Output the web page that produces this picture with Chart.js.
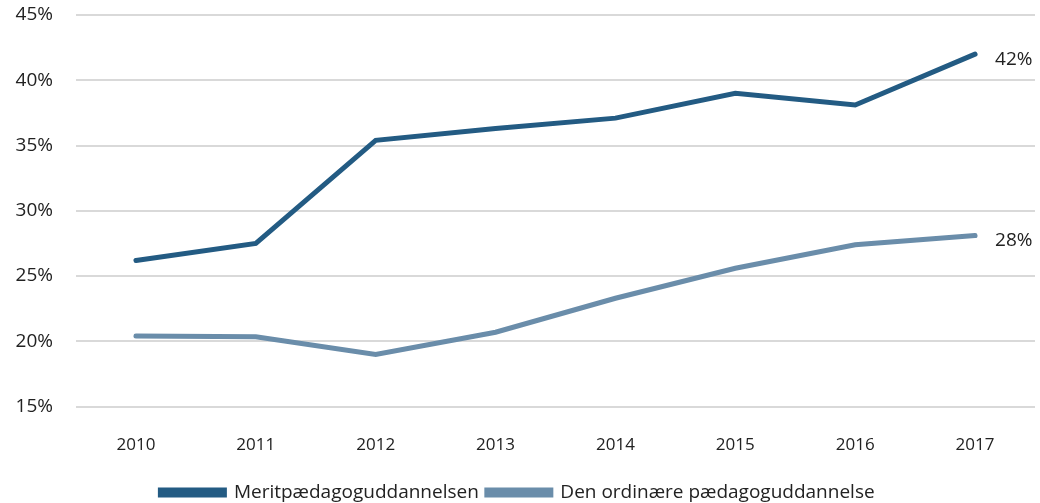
<!DOCTYPE html>
<html>
<head>
<meta charset="utf-8">
<script src="https://cdn.jsdelivr.net/npm/chart.js@4"></script>
<style>
  html, body { margin: 0; padding: 0; background: #fff; }
  #wrap { width: 1040px; height: 503px; }
</style>
</head>
<body>
<div id="wrap"><canvas id="myLineChart" width="1040" height="503"></canvas></div>
<script>
var years = ['2010', '2011', '2012', '2013', '2014', '2015', '2016', '2017'];
var meritValues = [26.2, 27.5, 35.4, 36.3, 37.1, 39.0, 38.1, 42.0];
var ordinaryValues = [20.4, 20.35, 19.0, 20.7, 23.3, 25.6, 27.4, 28.1];
var yTicks = [15, 20, 25, 30, 35, 40, 45];

var fontFamily = "'Open Sans', Lato, sans-serif";

// writes the last value to the right of each line
var endLabels = {
    id: 'endLabels',
    afterDatasetsDraw: function(chart) {
        var ctx = chart.ctx;
        ctx.save();
        ctx.font = '19px ' + fontFamily;
        ctx.fillStyle = '#222';
        ctx.textBaseline = 'middle';
        chart.data.datasets.forEach(function(ds, i) {
            var meta = chart.getDatasetMeta(i);
            var last = meta.data[meta.data.length - 1];
            var v = ds.data[ds.data.length - 1];
            ctx.fillText(Math.round(v) + '%', last.x + 20, last.y + 5);
        });
        ctx.restore();
    }
};

window.onload = function() {
    var ctx = document.getElementById('myLineChart').getContext('2d');
    new Chart(ctx, {
        type: 'line',
        data: {
            labels: years,
            datasets: [{
                label: 'Meritpædagoguddannelsen',
                data: meritValues,
                borderColor: '#235b83',
                backgroundColor: '#235b83',
                borderWidth: 5,
                pointRadius: 0,
                tension: 0,
                borderCapStyle: 'round',
                fill: false
            }, {
                label: 'Den ordinære pædagoguddannelse',
                data: ordinaryValues,
                borderColor: '#6a8daa',
                backgroundColor: '#6a8daa',
                borderWidth: 5,
                pointRadius: 0,
                tension: 0,
                borderCapStyle: 'round',
                fill: false
            }]
        },
        options: {
            responsive: false,
            animation: false,
            layout: { padding: { top: 15, right: 5, left: 0, bottom: -9 } },
            scales: {
                x: {
                    offset: true,
                    grid: { display: false },
                    border: { display: false },
                    ticks: { color: '#222', font: { family: fontFamily, size: 17 }, padding: 20 }
                },
                y: {
                    min: 15,
                    max: 45,
                    afterBuildTicks: function(axis) {
                        axis.ticks = yTicks.map(function(v) { return { value: v }; });
                    },
                    afterFit: function(axis) {
                        axis.width = 76;
                        axis.paddingTop = 0;
                        axis.paddingBottom = 0;
                    },
                    grid: { color: '#d9d9d9', lineWidth: 2, drawTicks: false },
                    border: { display: false },
                    ticks: {
                        color: '#222',
                        padding: 23,
                        font: { family: fontFamily, size: 19 },
                        callback: function(v) { return v + '%'; }
                    }
                }
            },
            plugins: {
                legend: {
                    display: true,
                    position: 'bottom',
                    labels: {
                        color: '#222',
                        font: { family: fontFamily, size: 19 },
                        boxWidth: 64,
                        boxHeight: 5,
                        padding: 8
                    }
                },
                tooltip: { enabled: false }
            }
        },
        plugins: [endLabels]
    });
};
</script>
</body>
</html>
